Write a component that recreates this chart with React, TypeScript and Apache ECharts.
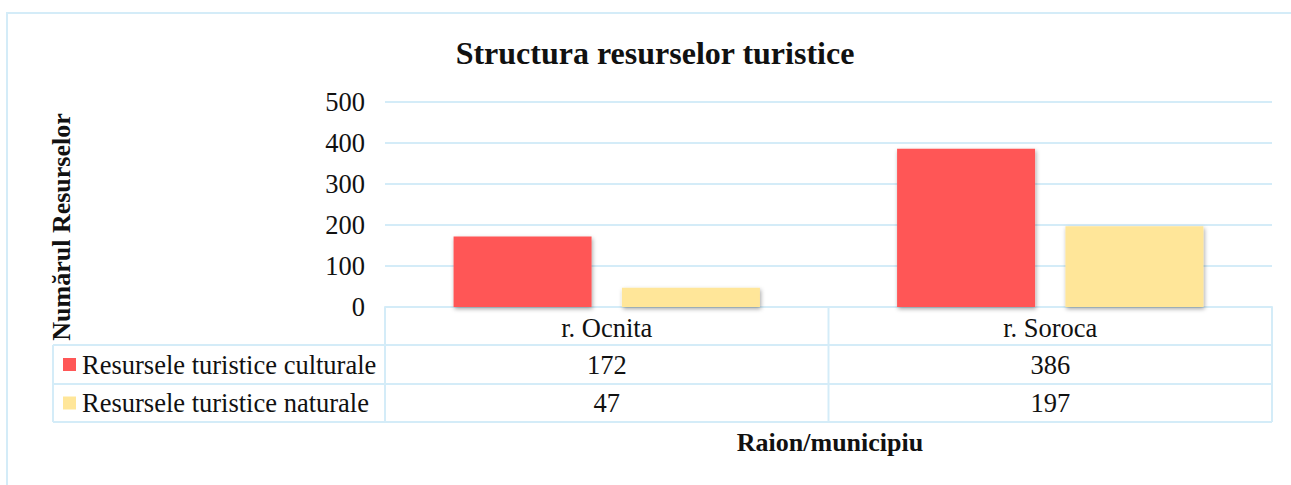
import React, { useEffect, useRef } from "react";
import * as echarts from "echarts";

const categories = ["r. Ocnita", "r. Soroca"];
const seriesNames = ["Resursele turistice culturale", "Resursele turistice naturale"];
const culturale = [172, 386];
const naturale = [47, 197];
const seriesColors = ["#FF5757", "#FFE699"];
const yTicks = { min: 0, max: 500, interval: 100 };

const FONT = "'Liberation Serif', 'Times New Roman', serif";
const LINE = "#D4ECF8";
const TXT = "#111111";
const FS = 26.5;

export default function App() {
  const ref = useRef<HTMLDivElement>(null);
  useEffect(() => {
    document.body.style.margin = "0";
    const chart = echarts.init(ref.current!, null, { renderer: "svg" });
    const gridLeft = 385;
    const gridRight = 1272;
    const gridTop = 102;
    const gridBottom = 307;
    const rowTops = [345, 384, 422];
    const tableLeft = 53;
    const allSeries = [culturale, naturale];

    chart.setOption({
      animation: false,
      backgroundColor: "#ffffff",
      grid: {
        left: gridLeft,
        right: 1291 - gridRight,
        top: gridTop,
        bottom: 485 - gridBottom,
        containLabel: false,
      },
      xAxis: {
        type: "category",
        data: categories,
        axisLine: { show: true, lineStyle: { color: LINE, width: 2 } },
        axisTick: { show: false },
        axisLabel: { fontFamily: FONT, fontSize: FS, color: TXT, margin: 7 },
      },
      yAxis: {
        type: "value",
        min: yTicks.min,
        max: yTicks.max,
        interval: yTicks.interval,
        axisLine: { show: false },
        axisTick: { show: false },
        axisLabel: { fontFamily: FONT, fontSize: FS, color: TXT, margin: 20 },
        splitLine: { lineStyle: { color: LINE, width: 2 } },
      },
      series: allSeries.map((d, i) => ({
        type: "bar",
        name: seriesNames[i],
        data: d,
        barWidth: 138,
        barGap: "22%",
        itemStyle: {
          color: seriesColors[i],
          shadowColor: "rgba(0,0,0,0.35)",
          shadowBlur: 4,
          shadowOffsetX: 1,
          shadowOffsetY: 2,
        },
      })),
    });

    const centers = categories.map((_, i) => chart.convertToPixel({ xAxisIndex: 0 }, i) as number);
    const bandHalf = (gridRight - gridLeft) / categories.length / 2;
    const colEdges = [gridLeft, ...centers.map((c) => c + bandHalf)];

    const elements: any[] = [];
    elements.push({
      type: "rect",
      shape: { x: 7, y: 13, width: 1320, height: 520 },
      style: { fill: "none", stroke: LINE, lineWidth: 2 },
      z: 0,
    });
    elements.push({
      type: "text",
      x: 655,
      y: 53,
      style: {
        text: "Structura resurselor turistice",
        fontFamily: FONT,
        fontSize: 32,
        fontWeight: "bold",
        fill: TXT,
        align: "center",
        verticalAlign: "middle",
      },
    });
    rowTops.forEach((y) => {
      elements.push({
        type: "line",
        shape: { x1: tableLeft, y1: y, x2: gridRight, y2: y },
        style: { stroke: LINE, lineWidth: 2 },
      });
    });
    elements.push({
      type: "line",
      shape: { x1: tableLeft, y1: rowTops[0], x2: tableLeft, y2: rowTops[2] },
      style: { stroke: LINE, lineWidth: 2 },
    });
    colEdges.forEach((x) => {
      elements.push({
        type: "line",
        shape: { x1: x, y1: gridBottom, x2: x, y2: rowTops[2] },
        style: { stroke: LINE, lineWidth: 2 },
      });
    });
    allSeries.forEach((d, r) => {
      const yc = (rowTops[r] + rowTops[r + 1]) / 2;
      elements.push({
        type: "rect",
        shape: { x: 63, y: yc - 6.5, width: 13, height: 13 },
        style: { fill: seriesColors[r] },
      });
      elements.push({
        type: "text",
        x: 82,
        y: yc,
        style: {
          text: seriesNames[r],
          fontFamily: FONT,
          fontSize: FS,
          fill: TXT,
          align: "left",
          verticalAlign: "middle",
        },
      });
      d.forEach((v, c) => {
        elements.push({
          type: "text",
          x: centers[c],
          y: yc,
          style: {
            text: String(v),
            fontFamily: FONT,
            fontSize: FS,
            fill: TXT,
            align: "center",
            verticalAlign: "middle",
          },
        });
      });
    });
    elements.push({
      type: "text",
      x: 830,
      y: 442,
      style: {
        text: "Raion/municipiu",
        fontFamily: FONT,
        fontSize: 26,
        fontWeight: "bold",
        fill: TXT,
        align: "center",
        verticalAlign: "middle",
      },
    });
    elements.push({
      type: "text",
      x: 61,
      y: 227,
      rotation: Math.PI / 2,
      style: {
        text: "Numărul Resurselor",
        fontFamily: FONT,
        fontSize: 26,
        fontWeight: "bold",
        fill: TXT,
        align: "center",
        verticalAlign: "middle",
      },
    });

    chart.setOption({ graphic: { elements } });

    return () => chart.dispose();
  }, []);
  return (
    <div
      ref={ref}
      style={{ position: "absolute", left: 0, top: 0, width: 1291, height: 485 }}
    />
  );
}
